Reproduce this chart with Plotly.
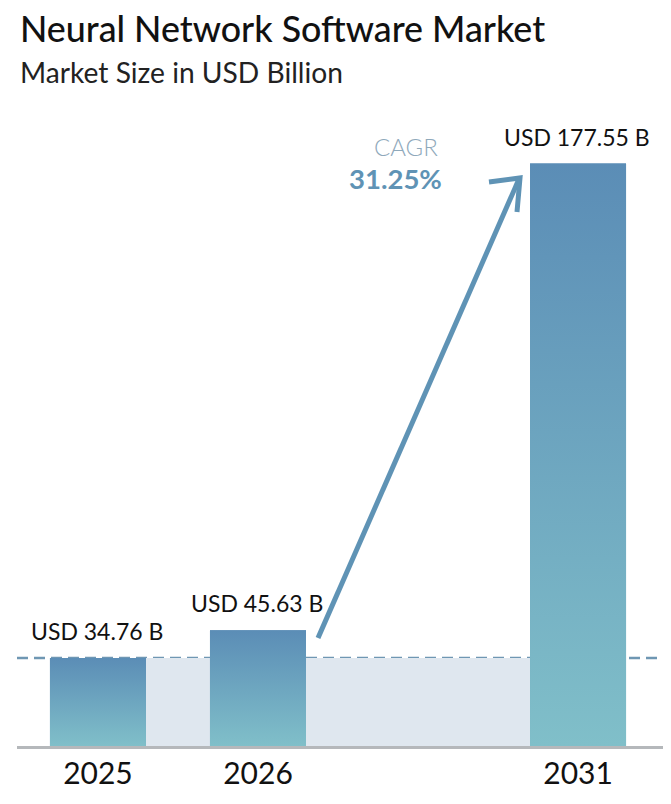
import plotly.graph_objects as go

# Data
years = ["2025", "2026", "2031"]
slots = [0, 1, 3]              # 2031 sits two slots after 2026, as drawn
labels = ["USD 34.76 B", "USD 45.63 B", "USD 177.55 B"]
# The drawn bars are not to one scale, so heights are read from the bars themselves.
drawn_heights = [34.76, 45.63, 229.8]
title = "Neural Network Software Market"
subtitle = "Market Size in USD Billion"
cagr_label = "CAGR"
cagr_value = "31.25%"

W, H = 671, 804
L, R, T, B = 17, 663, 87, 746
FONT = "Lato"
TOP, BOTTOM = "#5b8db6", "#80bfc9"
BLUE = "#5f93b5"


def px(x):
    return (x - L) / (R - L)


def py(y):
    return (B - y) / (B - T)


fig = go.Figure()

fig.add_trace(go.Bar(x=slots, y=drawn_heights, width=0.6,
                     marker=dict(color=TOP, line_width=0), hoverinfo="skip"))

for s, h in zip(slots, drawn_heights):
    fig.add_trace(go.Scatter(
        x=[s - 0.3, s + 0.3, s + 0.3, s - 0.3, s - 0.3],
        y=[0, 0, h, h, 0],
        mode="lines", line_width=0, fill="toself", hoverinfo="skip",
        fillgradient=dict(type="vertical",
                          colorscale=[[0, BOTTOM], [1, TOP]]),
    ))

shapes = [
    dict(type="rect", layer="below", xref="x", yref="y",
         x0=slots[0], x1=slots[2], y0=0, y1=drawn_heights[0],
         fillcolor="#dfe7ef", line_width=0),
    dict(type="line", layer="below", xref="paper", yref="y",
         x0=0, x1=1, y0=drawn_heights[0], y1=drawn_heights[0],
         line=dict(color="#6f97b3", width=2.5, dash="11px,6px")),
    dict(type="line", xref="paper", yref="paper",
         x0=px(318), y0=py(638), x1=px(519), y1=py(179),
         line=dict(color=BLUE, width=5)),
    dict(type="path", xref="paper", yref="paper",
         path=f"M {px(489)} {py(182)} L {px(520)} {py(178)} L {px(517)} {py(212)}",
         line=dict(color=BLUE, width=5)),
]

annotations = []
for s, h, t in zip(slots, drawn_heights, labels):
    annotations.append(dict(x=s, y=h, xref="x", yref="y", text=t, showarrow=False,
                            yanchor="bottom", yshift=11, xshift=-1,
                            font=dict(family=FONT, size=23, color="#111111")))

free_texts = [
    (17.5, 28, title, 35.8, "#111111", "left", 500),
    (17.5, 72, subtitle, 28.2, "#222222", "left", 400),
    (406, 146, cagr_label, 24, "#8fa9bb", "center", 300),
    (395, 179, cagr_value, 27.5, BLUE, "center", 700),
]
for x, y, t, s, c, a, w in free_texts:
    annotations.append(dict(x=px(x), y=py(y), xref="paper", yref="paper", text=t,
                            showarrow=False, xanchor=a, yanchor="middle",
                            font=dict(family=FONT, size=s, color=c, weight=w)))

fig.update_layout(
    width=W, height=H, showlegend=False, plot_bgcolor="white", paper_bgcolor="white",
    margin=dict(l=L, r=W - R, t=T, b=H - B, pad=0),
    shapes=shapes, annotations=annotations, barmode="overlay",
    xaxis=dict(range=[-0.506, 3.531], tickmode="array", tickvals=slots, ticktext=years,
               showline=True, linecolor="#b5b8bb", linewidth=3, showgrid=False,
               zeroline=False, ticks="", ticklabelstandoff=-1,
               tickfont=dict(family=FONT, size=30, color="#111111")),
    yaxis=dict(range=[0, 260], visible=False, showgrid=False, zeroline=False),
)

fig.write_html("out.html", config={"displayModeBar": False},
               post_script="document.body.style.margin='0';")
